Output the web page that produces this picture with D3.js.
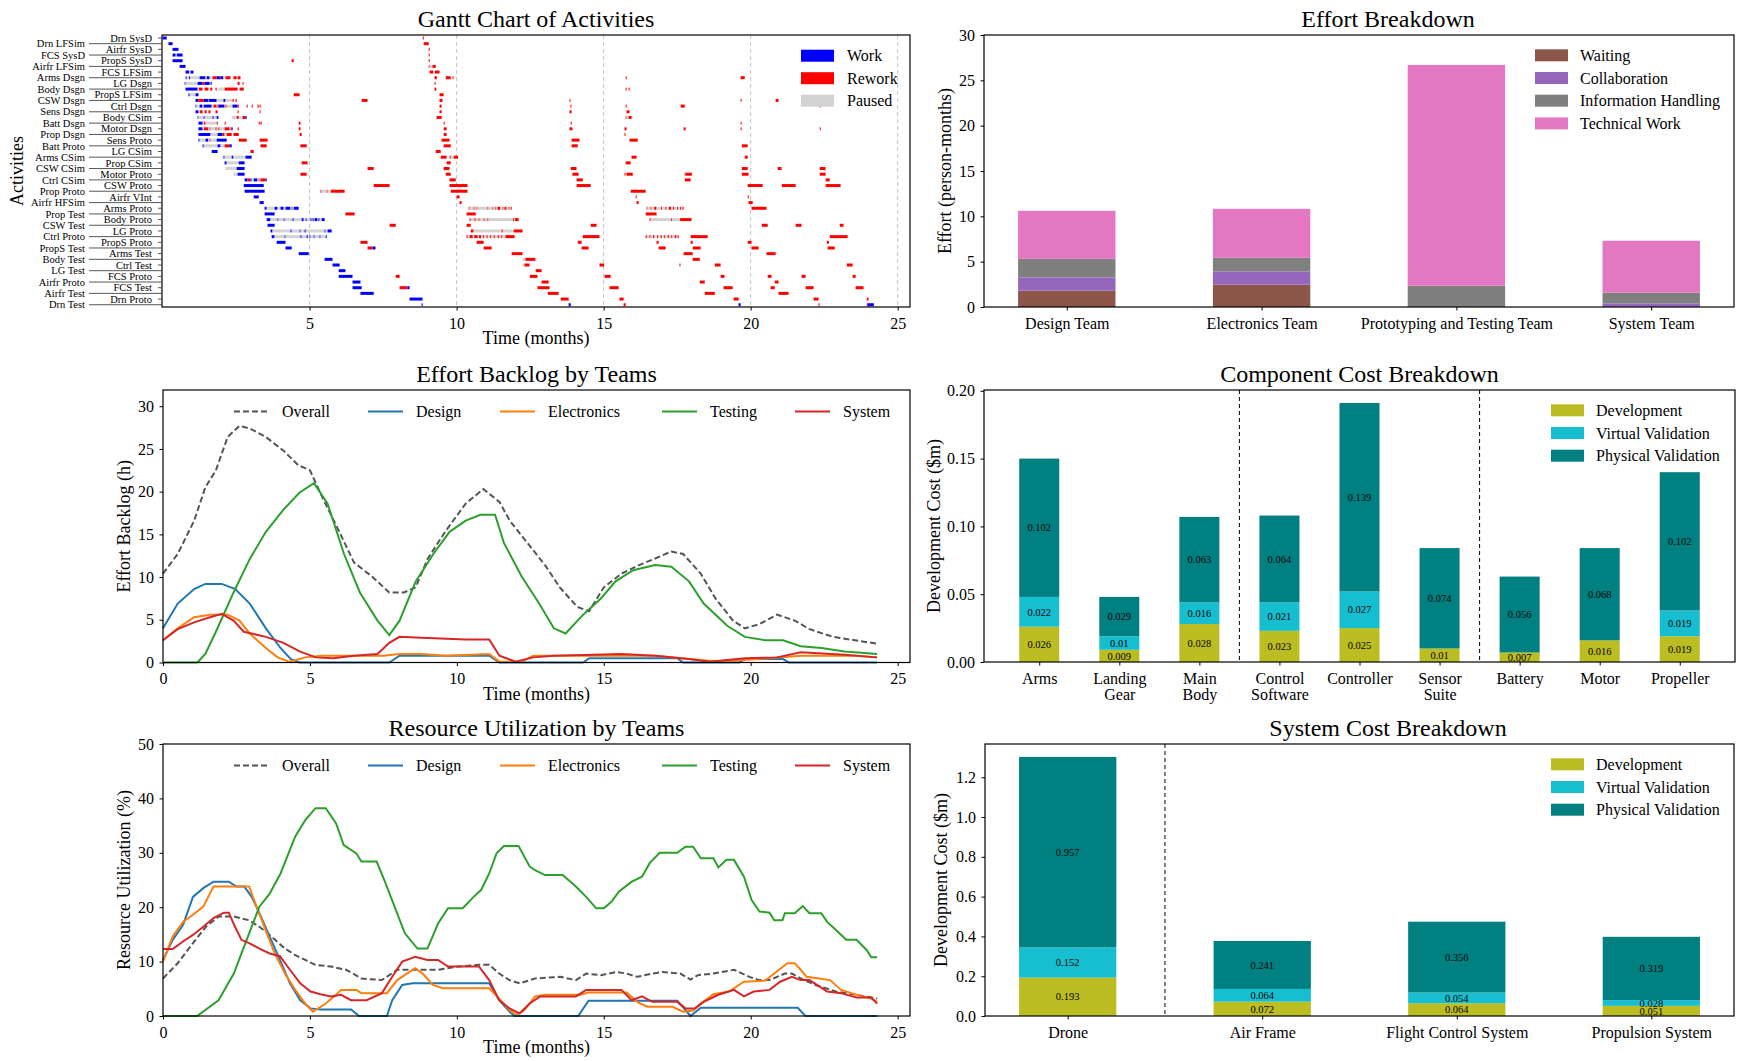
<!DOCTYPE html>
<html>
<head>
<meta charset="utf-8">
<script src="https://cdn.jsdelivr.net/npm/d3@7"></script>
<style>
  body { margin: 0; background: #fff; }
</style>
</head>
<body>
<div id="chart"></div>
<script>
/* * * * * * * * * * * * * *
*         data             *
* * * * * * * * * * * * * */

// gantt: activity names top to bottom, one list of [start, end, kind] per activity
// kind: W = work, R = rework, P = paused
const activities = ["Drn SysD", "Drn LFSim", "Airfr SysD", "FCS SysD", "PropS SysD", "Airfr LFSim", "FCS LFSim",
    "Arms Dsgn", "LG Dsgn", "Body Dsgn", "PropS LFSim", "CSW Dsgn", "Ctrl Dsgn", "Sens Dsgn", "Body CSim",
    "Batt Dsgn", "Motor Dsgn", "Prop Dsgn", "Sens Proto", "Batt Proto", "LG CSim", "Arms CSim", "Prop CSim",
    "CSW CSim", "Motor Proto", "Ctrl CSim", "CSW Proto", "Prop Proto", "Airfr VInt", "Airfr HFSim", "Arms Proto",
    "Prop Test", "Body Proto", "CSW Test", "LG Proto", "Ctrl Proto", "PropS Proto", "PropS Test", "Arms Test",
    "Body Test", "Ctrl Test", "LG Test", "FCS Proto", "Airfr Proto", "FCS Test", "Airfr Test", "Drn Proto", "Drn Test"];

const ganttBars = [
    [[0, 0.14, "W"], [8.85, 8.88, "R"]],
    [[0.2, 0.34, "W"], [8.88, 9.05, "R"]],
    [[0.34, 0.54, "W"], [9.05, 9.07, "R"]],
    [[0.34, 0.44, "W"], [0.48, 0.68, "W"], [9.05, 9.07, "R"]],
    [[0.34, 0.68, "W"], [4.39, 4.46, "R"], [9.05, 9.07, "R"]],
    [[0.58, 0.78, "W"], [9.05, 9.08, "R"], [9.08, 9.18, "P"], [9.18, 9.29, "R"]],
    [[0.78, 0.9, "W"], [0.9, 0.95, "P"], [0.95, 1.05, "W"], [9.08, 9.2, "R"], [9.2, 9.26, "P"], [9.26, 9.42, "R"]],
    [[0.78, 0.82, "W"], [0.82, 0.9, "P"], [0.9, 0.93, "W"], [0.93, 1.26, "P"], [1.26, 1.46, "W"], [1.46, 1.5, "P"],
        [1.5, 1.6, "W"], [1.6, 1.7, "P"], [1.7, 1.84, "R"], [1.84, 1.95, "W"], [1.95, 1.98, "R"], [1.98, 2.07, "W"],
        [2.07, 2.14, "P"], [2.14, 2.31, "R"], [2.41, 2.52, "R"], [2.55, 2.65, "R"], [9.25, 9.33, "R"],
        [9.63, 9.8, "R"], [9.86, 9.89, "R"], [15.75, 15.78, "R"], [19.66, 19.8, "R"]],
    [[0.75, 0.78, "W"], [0.78, 1.19, "P"], [1.19, 1.36, "W"], [1.36, 1.43, "R"], [1.43, 1.6, "W"], [1.63, 1.67, "W"],
        [2.55, 2.62, "R"], [2.72, 2.74, "R"], [9.25, 9.27, "R"]],
    [[0.78, 1.19, "W"], [1.23, 1.36, "R"], [1.43, 1.56, "R"], [1.62, 1.69, "R"], [1.8, 1.84, "R"], [1.9, 2.11, "P"],
        [2.11, 2.55, "R"], [2.62, 2.76, "R"], [9.25, 9.31, "R"], [15.75, 15.77, "R"], [15.85, 15.87, "R"]],
    [[0.88, 0.92, "W"], [0.92, 1.12, "P"], [1.12, 1.22, "W"], [4.46, 4.66, "R"], [9.42, 9.56, "R"]],
    [[1.12, 1.22, "W"], [1.22, 1.4, "R"], [1.4, 1.56, "W"], [1.58, 1.84, "W"], [1.84, 2.07, "P"], [2.07, 2.14, "W"],
        [2.14, 2.38, "P"], [2.38, 2.42, "R"], [2.48, 2.52, "R"], [6.77, 6.97, "R"], [9.42, 9.52, "R"],
        [13.84, 13.86, "R"], [19.66, 19.68, "R"], [20.85, 20.95, "R"]],
    [[1.12, 1.15, "W"], [1.15, 1.26, "P"], [1.26, 1.36, "W"], [1.36, 1.4, "P"], [1.4, 1.67, "W"], [1.67, 1.73, "P"],
        [1.73, 1.84, "R"], [1.84, 1.87, "P"], [1.87, 1.9, "R"], [1.9, 2.11, "W"], [2.11, 2.14, "P"], [2.14, 2.18, "R"],
        [2.18, 2.38, "P"], [2.38, 2.55, "W"], [2.55, 2.59, "R"], [2.86, 2.89, "R"], [3.03, 3.06, "R"],
        [3.23, 3.27, "R"], [3.3, 3.33, "R"], [9.42, 9.49, "R"], [13.87, 13.89, "R"], [15.75, 15.77, "R"],
        [17.62, 17.76, "R"], [22.35, 22.37, "R"]],
    [[1.12, 1.22, "W"], [1.26, 1.36, "R"], [1.43, 1.5, "R"], [1.56, 1.63, "R"], [1.8, 1.87, "R"], [2.55, 2.57, "R"],
        [3.3, 3.32, "R"], [9.42, 9.49, "R"], [13.84, 13.91, "R"], [15.78, 15.88, "R"]],
    [[1.19, 1.22, "W"], [1.22, 1.4, "P"], [1.4, 1.43, "W"], [1.43, 1.7, "P"], [1.7, 1.74, "W"], [1.74, 1.84, "P"],
        [1.84, 1.9, "W"], [2.35, 2.52, "P"], [2.52, 2.59, "R"], [2.59, 2.72, "P"], [2.72, 2.82, "R"],
        [2.82, 2.86, "W"], [9.32, 9.49, "R"], [15.75, 15.78, "R"], [15.78, 15.85, "P"], [15.85, 15.95, "R"]],
    [[1.22, 1.36, "W"], [1.4, 1.46, "R"], [1.46, 1.84, "P"], [1.84, 1.87, "R"], [2.11, 2.14, "R"], [3.27, 3.3, "R"],
        [3.33, 3.37, "R"], [4.63, 4.69, "R"], [9.56, 9.58, "R"], [13.88, 13.9, "R"], [19.66, 19.68, "R"]],
    [[1.22, 1.36, "W"], [1.4, 1.56, "R"], [1.56, 1.6, "P"], [1.6, 1.63, "R"], [1.63, 1.8, "P"], [1.8, 1.84, "R"],
        [1.84, 1.9, "P"], [1.9, 1.94, "R"], [1.94, 2.11, "P"], [2.11, 2.28, "R"], [2.28, 2.31, "P"], [2.31, 2.35, "R"],
        [2.35, 2.38, "W"], [2.55, 2.59, "R"], [4.63, 4.69, "R"], [9.56, 9.66, "R"], [13.84, 13.94, "R"],
        [15.71, 15.78, "R"], [17.72, 17.79, "R"], [19.66, 19.68, "R"], [22.35, 22.37, "R"]],
    [[1.22, 1.63, "W"], [1.63, 1.87, "P"], [1.87, 2.04, "W"], [2.04, 2.11, "R"], [2.11, 2.18, "P"], [2.18, 2.35, "R"],
        [2.41, 2.59, "R"], [4.66, 4.73, "R"], [9.56, 9.66, "R"], [15.71, 15.73, "R"]],
    [[1.22, 1.26, "W"], [1.26, 1.46, "P"], [1.46, 1.56, "W"], [1.56, 1.6, "P"], [1.6, 1.63, "R"], [1.63, 1.84, "P"],
        [1.84, 2.18, "W"], [2.59, 2.86, "R"], [3.3, 3.57, "R"], [9.46, 9.49, "P"], [9.49, 9.76, "R"],
        [13.91, 14.18, "R"], [15.88, 16.16, "R"]],
    [[1.36, 1.4, "W"], [1.4, 1.87, "P"], [1.87, 1.97, "W"], [1.97, 2.11, "P"], [2.11, 2.28, "R"], [2.28, 2.35, "W"],
        [3.33, 3.54, "R"], [4.66, 4.69, "P"], [4.69, 4.9, "R"], [9.56, 9.8, "R"], [13.91, 14.12, "R"], [19.7, 19.9, "R"]],
    [[1.67, 1.87, "W"], [2.99, 3.1, "R"], [9.29, 9.46, "R"]],
    [[2.07, 2.11, "W"], [2.11, 2.35, "P"], [2.35, 2.41, "W"], [2.41, 2.82, "P"], [2.82, 3.03, "W"], [9.46, 9.66, "R"],
        [9.76, 9.8, "R"], [9.8, 9.9, "P"], [9.9, 10.05, "R"], [15.95, 16.12, "R"], [19.8, 19.9, "R"]],
    [[2.11, 2.18, "W"], [2.18, 2.59, "P"], [2.59, 2.79, "W"], [4.73, 4.93, "R"], [9.66, 9.8, "R"], [15.75, 15.92, "R"]],
    [[2.14, 2.52, "P"], [2.52, 2.79, "W"], [6.97, 7.18, "R"], [9.56, 9.76, "R"], [13.88, 14.08, "R"], [19.7, 19.9, "R"],
        [20.92, 21.05, "R"], [22.35, 22.55, "R"]],
    [[2.41, 2.55, "P"], [2.55, 2.79, "W"], [4.69, 4.9, "R"], [9.63, 9.8, "R"], [13.94, 14.15, "R"], [15.71, 15.73, "R"],
        [15.78, 15.99, "R"], [17.76, 17.78, "R"], [17.8, 18.0, "R"], [19.7, 19.93, "R"], [22.35, 22.55, "R"]],
    [[2.79, 2.89, "W"], [2.89, 2.99, "R"], [2.99, 3.03, "W"], [3.03, 3.1, "P"], [3.1, 3.23, "W"], [3.23, 3.27, "P"],
        [3.27, 3.3, "R"], [3.3, 3.33, "P"], [3.33, 3.5, "R"], [3.5, 3.54, "W"], [9.76, 9.97, "R"], [14.08, 14.29, "R"],
        [17.76, 17.96, "R"], [22.55, 22.69, "R"]],
    [[2.76, 3.44, "W"], [7.18, 7.72, "R"], [9.76, 10.37, "R"], [14.08, 14.56, "R"], [19.9, 20.41, "R"],
        [21.06, 21.53, "R"], [22.55, 23.06, "R"]],
    [[2.79, 3.47, "W"], [5.37, 5.4, "R"], [5.4, 5.58, "P"], [5.58, 5.61, "R"], [5.61, 5.72, "P"], [5.72, 6.19, "R"],
        [9.8, 10.37, "R"], [15.92, 16.43, "R"]],
    [[3.1, 3.27, "W"], [10.0, 10.1, "R"], [16.09, 16.11, "R"], [19.9, 19.92, "R"]],
    [[3.3, 3.44, "W"], [10.1, 10.17, "R"], [16.12, 16.19, "R"], [19.93, 20.07, "R"]],
    [[3.47, 3.54, "W"], [3.54, 3.81, "P"], [3.81, 3.91, "W"], [3.91, 4.01, "P"], [4.01, 4.12, "W"], [4.12, 4.18, "P"],
        [4.18, 4.35, "W"], [4.35, 4.39, "P"], [4.39, 4.42, "W"], [4.42, 4.46, "P"], [4.46, 4.63, "W"],
        [10.41, 10.44, "R"], [10.44, 10.58, "P"], [10.58, 10.61, "R"], [10.61, 10.68, "P"], [10.68, 10.71, "R"],
        [10.71, 11.05, "P"], [11.05, 11.08, "R"], [11.08, 11.22, "P"], [11.22, 11.25, "R"], [11.25, 11.32, "P"],
        [11.32, 11.35, "R"], [11.35, 11.39, "P"], [11.39, 11.49, "R"], [11.49, 11.56, "P"], [11.56, 11.59, "R"],
        [11.59, 11.63, "P"], [11.63, 11.7, "R"], [11.7, 11.77, "P"], [11.77, 11.8, "R"], [11.8, 11.84, "P"],
        [11.84, 11.87, "R"], [16.46, 16.49, "R"], [16.49, 16.6, "P"], [16.6, 16.63, "R"], [16.63, 16.72, "P"],
        [16.72, 16.8, "R"], [16.8, 16.95, "P"], [16.95, 16.98, "R"], [16.98, 17.1, "P"], [17.1, 17.14, "R"],
        [17.14, 17.22, "P"], [17.22, 17.3, "R"], [17.3, 17.36, "P"], [17.36, 17.4, "R"], [17.4, 17.5, "P"],
        [17.5, 17.54, "R"], [17.54, 17.6, "P"], [17.6, 17.63, "R"], [17.63, 17.68, "P"], [17.68, 17.72, "R"],
        [20.03, 20.54, "R"]],
    [[3.47, 3.81, "W"], [6.22, 6.53, "R"], [10.34, 10.65, "R"], [16.43, 16.8, "R"]],
    [[3.54, 3.67, "W"], [3.67, 3.91, "P"], [3.91, 3.94, "W"], [3.94, 4.12, "P"], [4.12, 4.15, "W"], [4.15, 4.42, "P"],
        [4.42, 4.46, "W"], [4.46, 4.73, "P"], [4.73, 4.8, "W"], [4.8, 4.87, "P"], [4.87, 4.9, "W"], [4.9, 5.03, "P"],
        [5.03, 5.07, "W"], [5.07, 5.1, "P"], [5.1, 5.14, "W"], [5.14, 5.17, "P"], [5.17, 5.27, "W"], [5.27, 5.3, "P"],
        [5.3, 5.34, "W"], [5.34, 5.41, "P"], [5.41, 5.51, "W"], [10.44, 10.48, "R"], [10.48, 10.61, "P"],
        [10.61, 10.65, "R"], [10.65, 10.75, "P"], [10.75, 10.78, "R"], [10.78, 10.92, "P"], [10.92, 10.95, "R"],
        [10.95, 11.05, "P"], [11.05, 11.08, "R"], [11.08, 11.92, "P"], [11.92, 11.95, "R"], [11.95, 11.99, "P"],
        [11.99, 12.11, "R"], [16.56, 16.6, "R"], [16.6, 17.3, "P"], [17.3, 17.33, "R"], [17.33, 17.6, "P"],
        [17.6, 17.99, "R"]],
    [[3.57, 3.81, "W"], [7.72, 7.93, "R"], [10.34, 10.48, "R"], [14.56, 14.76, "R"], [20.38, 20.58, "R"],
        [21.53, 21.73, "R"], [23.03, 23.16, "R"]],
    [[3.67, 3.74, "W"], [3.74, 4.35, "P"], [4.35, 4.39, "W"], [4.39, 4.66, "P"], [4.66, 4.69, "W"], [4.69, 4.83, "P"],
        [4.83, 4.87, "W"], [4.87, 5.51, "P"], [5.51, 5.54, "W"], [5.54, 5.61, "P"], [5.61, 5.75, "W"],
        [10.48, 10.58, "R"], [10.58, 11.53, "P"], [11.53, 11.57, "R"], [11.57, 11.94, "P"], [11.94, 12.24, "R"]],
    [[3.71, 3.81, "W"], [3.81, 4.15, "P"], [4.15, 4.18, "W"], [4.18, 4.69, "P"], [4.69, 4.73, "W"], [4.73, 4.9, "P"],
        [4.9, 4.94, "W"], [4.94, 5.0, "P"], [5.0, 5.03, "W"], [5.03, 5.14, "P"], [5.14, 5.17, "W"], [5.17, 5.34, "P"],
        [5.34, 5.37, "W"], [5.37, 5.55, "P"], [5.55, 5.58, "W"], [10.34, 10.38, "R"], [10.38, 10.44, "P"],
        [10.44, 10.55, "R"], [10.55, 10.6, "P"], [10.6, 10.72, "R"], [10.72, 10.76, "P"], [10.76, 10.84, "R"],
        [10.84, 10.9, "P"], [10.9, 10.94, "R"], [10.94, 11.02, "P"], [11.02, 11.06, "R"], [11.06, 11.14, "P"],
        [11.14, 11.18, "R"], [11.18, 11.26, "P"], [11.26, 11.3, "R"], [11.3, 11.4, "P"], [11.4, 11.44, "R"],
        [11.44, 11.52, "P"], [11.52, 11.56, "R"], [11.56, 11.66, "P"], [11.66, 11.97, "R"], [14.29, 14.86, "R"],
        [16.43, 16.47, "R"], [16.47, 16.56, "P"], [16.56, 16.6, "R"], [16.6, 16.68, "P"], [16.68, 16.72, "R"],
        [16.72, 16.82, "P"], [16.82, 16.86, "R"], [16.86, 16.94, "P"], [16.94, 16.98, "R"], [16.98, 17.06, "P"],
        [17.06, 17.1, "R"], [17.1, 17.18, "P"], [17.18, 17.22, "R"], [17.22, 17.3, "P"], [17.3, 17.34, "R"],
        [17.34, 17.42, "P"], [17.42, 17.48, "R"], [17.48, 17.52, "P"], [17.52, 17.55, "R"], [17.96, 18.54, "R"],
        [22.69, 23.3, "R"]],
    [[3.88, 4.18, "W"], [6.73, 6.97, "R"], [10.68, 10.92, "R"], [14.12, 14.25, "R"], [16.8, 16.87, "R"],
        [17.96, 18.03, "R"], [19.9, 20.03, "R"], [22.59, 22.66, "R"]],
    [[4.18, 4.39, "W"], [6.97, 7.14, "R"], [7.14, 7.24, "W"], [10.92, 11.19, "R"], [14.25, 14.49, "R"],
        [16.87, 17.11, "R"], [18.03, 18.3, "R"], [20.03, 20.27, "R"], [22.62, 22.86, "R"]],
    [[4.63, 4.97, "W"], [11.87, 12.24, "R"], [17.72, 18.03, "R"], [20.54, 20.85, "R"]],
    [[5.51, 5.78, "W"], [12.24, 12.34, "P"], [12.34, 12.68, "R"], [18.03, 18.27, "R"]],
    [[5.78, 6.02, "W"], [12.24, 12.31, "P"], [12.31, 12.48, "R"], [14.86, 15.02, "R"], [17.58, 17.6, "R"],
        [18.78, 18.98, "R"], [23.27, 23.47, "R"]],
    [[5.99, 6.22, "W"], [12.69, 12.89, "R"]],
    [[5.99, 6.46, "W"], [7.93, 8.06, "R"], [12.49, 12.75, "R"], [15.03, 15.24, "R"], [18.98, 19.11, "R"],
        [20.58, 20.71, "R"], [21.73, 21.87, "R"], [23.47, 23.57, "R"]],
    [[6.46, 6.73, "W"], [12.89, 13.13, "R"], [18.27, 18.44, "R"], [20.82, 20.95, "R"]],
    [[6.46, 6.77, "W"], [8.06, 8.33, "R"], [8.33, 8.4, "W"], [12.75, 13.16, "R"], [15.2, 15.51, "R"],
        [19.08, 19.39, "R"], [20.68, 20.82, "R"], [21.87, 22.14, "R"], [23.57, 23.84, "R"]],
    [[6.73, 7.18, "W"], [13.1, 13.47, "R"], [18.44, 18.78, "R"], [20.95, 21.29, "R"]],
    [[8.4, 8.84, "W"], [13.54, 13.81, "R"], [15.54, 15.68, "R"], [19.42, 19.59, "R"], [22.14, 22.31, "R"],
        [23.95, 24.01, "R"]],
    [[8.81, 8.84, "W"], [13.81, 13.88, "W"], [15.68, 15.75, "R"], [19.59, 19.66, "W"], [22.31, 22.33, "R"],
        [23.95, 23.98, "R"], [23.98, 24.19, "W"]]
];

const ganttKinds = ["Work", "Rework", "Paused"];
const monthTicks = [5, 10, 15, 20, 25];

// effort backlog (h) over time, [month, value]
const backlogOverall = [[0, 10.4], [0.5, 12.7], [1.06, 16.6], [1.44, 20.5], [1.8, 22.5], [2.2, 26.4], [2.6, 27.7],
    [2.95, 27.4], [3.5, 26.4], [4.1, 24.8], [4.6, 23.1], [5.0, 22.5], [5.4, 19.5], [6.0, 15.3], [6.5, 11.7],
    [7.1, 10.1], [7.7, 8.2], [8.2, 8.2], [8.6, 8.8], [9.0, 12.1], [9.6, 15.3], [10.3, 18.6], [10.9, 20.3],
    [11.45, 18.8], [11.8, 16.6], [12.4, 14], [13, 11.4], [13.5, 8.8], [14.1, 6.5], [14.5, 6.0], [15.0, 8.8],
    [15.6, 10.4], [16.2, 11.4], [16.7, 12.1], [17.3, 13], [17.7, 12.7], [18.3, 10.4], [18.8, 7.5], [19.4, 4.9],
    [19.8, 4.0], [20.3, 4.5], [20.9, 5.6], [21.5, 4.9], [22.0, 3.9], [22.8, 3.0], [23.55, 2.6], [24.3, 2.2]];
const backlogDesign = [[0, 4.0], [0.5, 6.9], [1.06, 8.6], [1.44, 9.2], [2.0, 9.2], [2.46, 8.6], [2.95, 6.9],
    [3.5, 4.0], [4.0, 1.7], [4.35, 0.4], [4.65, 0], [7.7, 0], [8.05, 0.8], [11.1, 0.8], [11.45, 0], [14.3, 0],
    [14.5, 0.5], [17.5, 0.5], [17.7, 0], [19.6, 0], [19.8, 0.4], [21.1, 0.4], [21.3, 0], [24.3, 0]];
const backlogElectronics = [[0, 2.6], [0.5, 4.0], [1.06, 5.3], [1.6, 5.6], [2.2, 5.6], [2.6, 4.9], [2.95, 3.4],
    [3.5, 1.7], [3.9, 0.6], [4.3, 0.1], [4.85, 0.6], [5.4, 0.8], [7.5, 0.8], [8.05, 1.0], [8.8, 1.0], [9.6, 0.8],
    [11.1, 1.0], [11.45, 0.1], [12.2, 0.1], [12.6, 0.8], [16.75, 0.8], [17.9, 0.4], [19.0, 0.1], [20.2, 0.4],
    [21.7, 0.8], [23.55, 0.8], [24.3, 0.6]];
const backlogTesting = [[0, 0], [1.17, 0], [1.44, 1], [1.8, 3.6], [2.4, 8.2], [2.95, 12.1], [3.5, 15.3], [4.1, 17.9],
    [4.65, 19.9], [5.14, 21.0], [5.6, 18.6], [6.16, 12.7], [6.7, 8.2], [7.3, 4.9], [7.7, 3.2], [8.05, 4.9],
    [8.6, 9.5], [9.2, 12.7], [9.75, 15.3], [10.3, 16.6], [10.8, 17.3], [11.3, 17.3], [11.6, 14], [12.2, 10.1],
    [12.8, 6.9], [13.3, 4.0], [13.7, 3.4], [14.3, 5.6], [14.9, 7.5], [15.4, 9.5], [16.0, 10.8], [16.75, 11.4],
    [17.3, 11.2], [17.9, 9.5], [18.4, 6.9], [19.2, 4.3], [19.8, 3.0], [20.5, 2.6], [21.1, 2.6], [21.7, 1.9],
    [22.4, 1.7], [23.2, 1.3], [24.3, 1.0]];
const backlogSystem = [[0, 2.6], [0.5, 3.9], [1.06, 4.7], [1.6, 5.3], [2.0, 5.7], [2.4, 4.9], [2.75, 3.6],
    [3.5, 3.0], [4.1, 2.3], [4.65, 1.3], [5.2, 0.6], [5.8, 0.5], [6.5, 0.8], [7.3, 1.0], [7.7, 2.3], [8.05, 3.0],
    [8.8, 2.9], [10.3, 2.7], [11.1, 2.7], [11.45, 0.8], [12.0, 0.1], [12.6, 0.6], [13.3, 0.8], [15.6, 1.0],
    [16.75, 0.8], [17.9, 0.4], [18.6, 0.1], [19.8, 0.5], [20.9, 0.6], [21.7, 1.2], [23.2, 0.9], [24.3, 0.6]];

// resource utilization (%) over time, [month, value]
const utilOverall = [[0, 6.9], [0.5, 9.7], [1.02, 13.4], [1.46, 16.4], [1.9, 18.3], [2.41, 18.3], [2.93, 17.6],
    [3.28, 16.4], [3.63, 14.9], [4.15, 12.4], [4.5, 11.2], [4.84, 10.3], [5.19, 9.4], [5.71, 9.1], [6.23, 8.5],
    [6.75, 6.9], [7.45, 6.6], [7.97, 8.5], [8.66, 8.5], [9.36, 8.5], [10.05, 9.1], [10.75, 9.4], [11.1, 9.4],
    [11.44, 7.8], [11.79, 6.6], [12.14, 6.0], [12.66, 6.9], [13.52, 7.2], [14.05, 6.6], [14.4, 7.8], [14.91, 7.5],
    [15.43, 8.1], [15.78, 7.8], [16.13, 7.2], [16.65, 7.8], [17.0, 8.1], [17.6, 7.8], [17.95, 6.7], [18.2, 7.5],
    [18.73, 7.8], [19.43, 8.5], [19.95, 7.2], [20.3, 6.6], [20.64, 6.6], [21.16, 7.8], [21.4, 7.8], [21.7, 6.9],
    [22.2, 5.7], [22.9, 4.5], [23.6, 3.9], [24.3, 3.2]];
const utilDesign = [[0, 10.3], [0.33, 14], [0.68, 16.7], [1.02, 21.9], [1.37, 23.5], [1.72, 24.7], [2.24, 24.7],
    [2.5, 23.8], [2.76, 23.8], [3.02, 21.9], [3.28, 18.9], [3.63, 14.6], [3.98, 10.3], [4.32, 6], [4.67, 2.9],
    [5.02, 1.4], [5.36, 1.2], [6.4, 1.2], [6.67, 0], [7.62, 0], [7.8, 2.9], [8.14, 5.7], [8.49, 6], [11.1, 6],
    [11.44, 2.9], [11.79, 0.8], [11.96, 0], [14.13, 0], [14.48, 2.8], [17.5, 2.8], [17.78, 1.1], [17.95, 0],
    [18.3, 1.5], [21.6, 1.5], [21.86, 0], [24.3, 0]];
const utilElectronics = [[0, 10], [0.33, 14.6], [0.68, 17.3], [1.02, 18.6], [1.37, 20.1], [1.72, 23.8], [2.93, 23.8],
    [3.1, 21.3], [3.45, 16.4], [3.8, 11.5], [4.15, 7.8], [4.5, 4.8], [4.84, 2.3], [5.1, 0.8], [5.28, 1.4],
    [5.54, 2.3], [5.89, 3.9], [6.06, 4.8], [6.58, 4.8], [6.75, 4.2], [7.62, 4.2], [7.97, 6.6], [8.3, 7.8],
    [8.58, 8.8], [8.84, 7.8], [9.18, 5.7], [9.53, 5.1], [11.1, 5.1], [11.44, 3.2], [11.79, 1.1], [12.05, 0.2],
    [12.3, 1.1], [12.66, 3.6], [13.0, 3.9], [14.2, 3.9], [14.48, 4.3], [15.78, 4.3], [16.13, 2.6], [16.48, 1.7],
    [17.34, 1.7], [17.7, 0.8], [18.04, 1.0], [18.3, 2.3], [18.73, 4.0], [19.26, 4.5], [19.77, 6.3], [20.5, 6.5],
    [20.8, 7.8], [21.25, 9.7], [21.5, 9.7], [21.7, 8.5], [21.9, 7.2], [22.7, 6.6], [23.07, 4.8], [23.6, 3.9],
    [24.1, 3.2], [24.3, 2.6]];
const utilTesting = [[0, 0], [1.16, 0], [1.89, 2.9], [2.41, 7.8], [2.93, 15.2], [3.28, 20.1], [3.63, 22.5],
    [4.0, 26.2], [4.5, 33], [4.84, 36], [5.19, 38.2], [5.54, 38.2], [5.89, 35.4], [6.15, 31.4], [6.58, 29.9],
    [6.75, 28.4], [7.27, 28.4], [7.53, 25], [7.88, 20.1], [8.23, 15.2], [8.66, 12.4], [9.0, 12.4], [9.36, 17],
    [9.7, 19.8], [10.2, 19.8], [10.57, 21.9], [10.83, 23.2], [11.1, 26.2], [11.35, 29.9], [11.6, 31.25],
    [12.1, 31.25], [12.48, 27.45], [12.66, 26.8], [13.0, 25.9], [13.6, 25.9], [14.05, 23.8], [14.4, 21.9],
    [14.74, 19.8], [15.0, 19.8], [15.26, 21], [15.52, 22.9], [15.95, 24.7], [16.3, 25.6], [16.56, 28.1],
    [16.9, 30], [17.5, 30], [17.78, 31.1], [18.04, 31.1], [18.3, 29], [18.73, 29], [18.9, 27.3], [19.17, 28.7],
    [19.43, 28.7], [19.77, 25.6], [20.03, 21.3], [20.3, 19.2], [20.64, 19], [20.8, 17.6], [21.08, 17.6],
    [21.16, 18.9], [21.5, 18.9], [21.77, 20.2], [22.0, 18.9], [22.4, 18.9], [22.6, 17.3], [22.9, 15.8],
    [23.25, 14], [23.6, 14], [23.95, 12.1], [24.1, 10.8], [24.3, 10.8]];
const utilSystem = [[0, 12.3], [0.33, 12.3], [0.68, 13.7], [1.02, 14.9], [1.37, 16.4], [1.72, 18], [2.07, 19],
    [2.24, 19], [2.45, 16.4], [2.67, 14], [2.93, 13.4], [3.28, 12.4], [3.63, 11.5], [3.98, 11], [4.32, 8.5],
    [4.67, 6], [5.02, 4.5], [5.36, 4.0], [5.71, 3.6], [6.06, 3.9], [6.4, 2.9], [6.93, 2.9], [7.45, 4.2], [7.8, 7.2],
    [8.14, 10], [8.58, 10.9], [9.0, 10.3], [9.36, 10.3], [9.7, 9.1], [10.75, 9.1], [11.1, 6.6], [11.44, 2.9],
    [11.79, 1.4], [12.14, 0.5], [12.48, 2.3], [12.83, 3.6], [14.05, 3.6], [14.4, 4.8], [15.6, 4.8], [15.95, 2.9],
    [16.3, 3.6], [16.65, 2.6], [17.5, 2.6], [17.78, 1.4], [18.1, 1.4], [18.4, 2.6], [18.9, 3.9], [19.43, 4.8],
    [19.77, 3.6], [20.1, 4.5], [20.64, 4.8], [21.0, 6.3], [21.4, 7.2], [21.7, 6.6], [22.0, 6.6], [22.6, 4.5],
    [23.07, 4.2], [23.6, 3.4], [24.1, 3.4], [24.3, 2.3]];

// effort breakdown (person-months)
const teams = ["Design Team", "Electronics Team", "Prototyping and Testing Team", "System Team"];
const effortWaiting = [1.8, 2.46, 0, 0];
const effortCollaboration = [1.47, 1.47, 0, 0.4];
const effortInfoHandling = [2.05, 1.5, 2.35, 1.18];
const effortTechnical = [5.29, 5.4, 24.35, 5.73];

// component cost breakdown ($m)
const components = ["Arms", "Landing\nGear", "Main\nBody", "Control\nSoftware", "Controller", "Sensor\nSuite",
    "Battery", "Motor", "Propeller"];
const compDevelopment = [0.026, 0.009, 0.028, 0.023, 0.025, 0.01, 0.007, 0.016, 0.019];
const compVirtual = [0.022, 0.01, 0.016, 0.021, 0.027, 0, 0, 0, 0.019];
const compPhysical = [0.102, 0.029, 0.063, 0.064, 0.139, 0.074, 0.056, 0.068, 0.102];
const compDividers = [2.5, 5.5];

// system cost breakdown ($m)
const systems = ["Drone", "Air Frame", "Flight Control System", "Propulsion System"];
const sysDevelopment = [0.193, 0.072, 0.064, 0.051];
const sysVirtual = [0.152, 0.064, 0.054, 0.028];
const sysPhysical = [0.957, 0.241, 0.356, 0.319];
const sysDividers = [0.5];

/* * * * * * * * * * * * * *
*         drawing          *
* * * * * * * * * * * * * */
const FONT = '"Liberation Serif", "Times New Roman", serif';
const TICK = 16, LABEL = 18, TITLE = 24, LEGEND = 16;

const svg = d3.select("#chart").append("svg")
    .attr("width", 1737)
    .attr("height", 1061)
    .style("font-family", FONT);
svg.append("rect").attr("width", 1737).attr("height", 1061).attr("fill", "#fff");

function styleAxis(g) {
    g.attr("font-family", FONT).attr("font-size", TICK);
    g.select(".domain").remove();
    g.selectAll(".tick line").attr("stroke", "#000");
    g.selectAll(".tick text").attr("fill", "#000");
}

function frame(p) {
    svg.append("rect")
        .attr("x", p.left).attr("y", p.top)
        .attr("width", p.right - p.left).attr("height", p.bottom - p.top)
        .attr("fill", "none").attr("stroke", "#000").attr("stroke-width", 1.2);
}

function title(p, text, cx) {
    svg.append("text")
        .attr("x", cx !== undefined ? cx : (p.left + p.right) / 2).attr("y", p.top - 8.5)
        .attr("text-anchor", "middle").attr("font-size", TITLE)
        .text(text);
}

function yLabel(p, x, text) {
    svg.append("text")
        .attr("transform", `translate(${x},${(p.top + p.bottom) / 2}) rotate(-90)`)
        .attr("text-anchor", "middle").attr("font-size", LABEL)
        .text(text);
}

function xLabel(p, text) {
    svg.append("text")
        .attr("x", (p.left + p.right) / 2).attr("y", p.bottom + 37)
        .attr("text-anchor", "middle").attr("font-size", LABEL)
        .text(text);
}

// ---------- gantt ----------
function drawGantt() {
    const p = {left: 162, right: 910, top: 35, bottom: 307};
    const x = d3.scaleLinear().domain([-0.02, 25.42]).range([p.left, p.right]);
    const y = d3.scaleLinear().domain([-0.53, 47.4]).range([p.top, p.bottom]);
    const colors = {W: "#0000ff", R: "#ff0000", P: "#d3d3d3"};

    const g = svg.append("g");
    g.selectAll(".grid").data(monthTicks).enter().append("line")
        .attr("x1", d => x(d)).attr("x2", d => x(d))
        .attr("y1", p.top).attr("y2", p.bottom)
        .attr("stroke", "#c4c4c4").attr("stroke-dasharray", "4,3");

    const segs = [];
    ganttBars.forEach((row, i) => row.forEach(s => segs.push({row: i, s: s[0], e: s[1], k: s[2]})));
    g.selectAll(".seg").data(segs).enter().append("rect")
        .attr("x", d => x(d.s))
        .attr("width", d => Math.max(1, x(d.e) - x(d.s)))
        .attr("y", d => y(d.row) - 1.5)
        .attr("height", 3)
        .attr("fill", d => colors[d.k]);

    frame(p);

    // two-level activity labels
    const lab = svg.append("g").attr("font-size", 10.5);
    activities.forEach((name, i) => {
        const long = i % 2 === 1;
        lab.append("line")
            .attr("x1", long ? 89 : p.left - 4).attr("x2", p.left)
            .attr("y1", y(i)).attr("y2", y(i))
            .attr("stroke", "#444").attr("stroke-width", 0.9);
        lab.append("text")
            .attr("x", long ? 85 : p.left - 10).attr("y", y(i)).attr("dy", "0.35em")
            .attr("text-anchor", "end").text(name);
    });

    const ax = svg.append("g").attr("transform", `translate(0,${p.bottom})`)
        .call(d3.axisBottom(x).tickValues(monthTicks).tickSize(3.5).tickPadding(7));
    styleAxis(ax);

    const kinds = ["W", "R", "P"];
    const leg = svg.append("g").attr("font-size", LEGEND);
    ganttKinds.forEach((name, i) => {
        const cy = p.top + 20.7 + i * 22.5;
        leg.append("rect").attr("x", 801).attr("y", cy - 6).attr("width", 33).attr("height", 12)
            .attr("fill", colors[kinds[i]]);
        leg.append("text").attr("x", 847).attr("y", cy).attr("dy", "0.35em").text(name);
    });

    title(p, "Gantt Chart of Activities");
    xLabel(p, "Time (months)");
    yLabel(p, 22.5, "Activities");
}

// ---------- line panels ----------
const teamColors = {Overall: "#555555", Design: "#1f77b4", Electronics: "#ff7f0e", Testing: "#2ca02c", System: "#d62728"};
const legendX = [234, 368, 500, 662, 795];

function drawLines(p, yMax, yTicks, series, titleText, yText) {
    const x = d3.scaleLinear().domain([0, 25.42]).range([p.left, p.right]);
    const y = d3.scaleLinear().domain([0, yMax]).range([p.bottom, p.top]);
    const line = d3.line().x(d => x(d[0])).y(d => y(d[1]));

    series.forEach(s => {
        svg.append("path")
            .datum(s.values)
            .attr("d", line)
            .attr("fill", "none")
            .attr("stroke", teamColors[s.name])
            .attr("stroke-width", 2)
            .attr("stroke-dasharray", s.name === "Overall" ? "6,3" : null);
    });

    frame(p);

    const ax = svg.append("g").attr("transform", `translate(0,${p.bottom})`)
        .call(d3.axisBottom(x).tickValues([0].concat(monthTicks)).tickSize(3.5).tickPadding(7));
    styleAxis(ax);
    const ay = svg.append("g").attr("transform", `translate(${p.left},0)`)
        .call(d3.axisLeft(y).tickValues(yTicks).tickSize(3.5).tickPadding(5.5));
    styleAxis(ay);

    const leg = svg.append("g").attr("font-size", LEGEND);
    series.forEach((s, i) => {
        const cy = p.top + 21.5;
        leg.append("line")
            .attr("x1", legendX[i]).attr("x2", legendX[i] + 35)
            .attr("y1", cy).attr("y2", cy)
            .attr("stroke", teamColors[s.name]).attr("stroke-width", 2)
            .attr("stroke-dasharray", s.name === "Overall" ? "6,3" : null);
        leg.append("text").attr("x", legendX[i] + 48).attr("y", cy).attr("dy", "0.35em").text(s.name);
    });

    title(p, titleText);
    xLabel(p, "Time (months)");
    yLabel(p, 130, yText);
}

// ---------- stacked bar panels ----------
function drawStack(p, cfg) {
    const n = cfg.cats.length;
    const x = d3.scaleLinear().domain(cfg.xDomain).range([p.left, p.right]);
    const y = d3.scaleLinear().domain([0, cfg.yMax]).range([p.bottom, p.top]);
    const bw = x(0.5) - x(0);

    // stack the layers bottom to top
    const rows = d3.range(n).map(i => {
        const o = {i: i};
        cfg.layers.forEach(l => o[l.name] = l.values[i]);
        return o;
    });
    const stacked = d3.stack().keys(cfg.layers.map(l => l.name))(rows);

    stacked.forEach((layer, li) => {
        const g = svg.append("g").attr("fill", cfg.layers[li].color);
        g.selectAll("rect").data(layer.filter(d => d[1] > d[0])).enter().append("rect")
            .attr("x", d => x(d.data.i) - bw / 2)
            .attr("width", bw)
            .attr("y", d => y(d[1]))
            .attr("height", d => y(d[0]) - y(d[1]));
        if (cfg.labels) {
            svg.append("g").attr("font-size", 10.5).selectAll("text")
                .data(layer.filter(d => d[1] > d[0])).enter().append("text")
                .attr("x", d => x(d.data.i))
                .attr("y", d => y((d[0] + d[1]) / 2))
                .attr("dy", "0.35em")
                .attr("text-anchor", "middle")
                .text(d => String(+(d[1] - d[0]).toFixed(3)));
        }
    });

    (cfg.dividers || []).forEach(v => {
        svg.append("line")
            .attr("x1", x(v)).attr("x2", x(v))
            .attr("y1", p.top).attr("y2", p.bottom)
            .attr("stroke", "#000").attr("stroke-width", 1).attr("stroke-dasharray", "4,3");
    });

    frame(p);

    const ax = svg.append("g").attr("transform", `translate(0,${p.bottom})`)
        .call(d3.axisBottom(x).tickValues(d3.range(n)).tickSize(3.5).tickPadding(7).tickFormat(""));
    styleAxis(ax);
    ax.selectAll(".tick").each(function (d) {
        const t = d3.select(this).append("text")
            .attr("fill", "#000").attr("y", 10.5).attr("text-anchor", "middle");
        cfg.cats[d].split("\n").forEach((part, k) => {
            t.append("tspan").attr("x", 0).attr("dy", k === 0 ? "0.71em" : "1.02em").text(part);
        });
    });

    const ay = svg.append("g").attr("transform", `translate(${p.left},0)`)
        .call(d3.axisLeft(y).tickValues(cfg.yTicks).tickSize(3.5).tickPadding(5.5).tickFormat(cfg.fmt));
    styleAxis(ay);

    const leg = svg.append("g").attr("font-size", LEGEND);
    cfg.layers.forEach((l, i) => {
        const cy = p.top + 20.3 + i * 22.7;
        leg.append("rect").attr("x", cfg.legendX).attr("y", cy - 6).attr("width", 33).attr("height", 12)
            .attr("fill", l.color);
        leg.append("text").attr("x", cfg.legendX + 45).attr("y", cy).attr("dy", "0.35em").text(l.name);
    });

    title(p, cfg.title, cfg.titleX);
    yLabel(p, cfg.yLabelX, cfg.yLabel);
}

drawGantt();

drawLines({left: 163, right: 910, top: 390, bottom: 662.5}, 31.9, [0, 5, 10, 15, 20, 25, 30], [
    {name: "Overall", values: backlogOverall},
    {name: "Design", values: backlogDesign},
    {name: "Electronics", values: backlogElectronics},
    {name: "Testing", values: backlogTesting},
    {name: "System", values: backlogSystem}
], "Effort Backlog by Teams", "Effort Backlog (h)");

drawLines({left: 163, right: 910, top: 744, bottom: 1016}, 50, [0, 10, 20, 30, 40, 50], [
    {name: "Overall", values: utilOverall},
    {name: "Design", values: utilDesign},
    {name: "Electronics", values: utilElectronics},
    {name: "Testing", values: utilTesting},
    {name: "System", values: utilSystem}
], "Resource Utilization by Teams", "Resource Utilization (%)");

const costLayers = (dev, virt, phys) => [
    {name: "Development", values: dev, color: "#bcbd22"},
    {name: "Virtual Validation", values: virt, color: "#17becf"},
    {name: "Physical Validation", values: phys, color: "#008080"}
];

drawStack({left: 984, right: 1734, top: 35, bottom: 307}, {
    cats: teams, xDomain: [-0.425, 3.425], yMax: 30, yTicks: [0, 5, 10, 15, 20, 25, 30], fmt: d3.format("d"),
    layers: [
        {name: "Waiting", values: effortWaiting, color: "#8c564b"},
        {name: "Collaboration", values: effortCollaboration, color: "#9467bd"},
        {name: "Information Handling", values: effortInfoHandling, color: "#7f7f7f"},
        {name: "Technical Work", values: effortTechnical, color: "#e377c2"}
    ],
    labels: false, legendX: 1535, title: "Effort Breakdown", titleX: 1388,
    yLabel: "Effort (person-months)", yLabelX: 951
});

drawStack({left: 984, right: 1735, top: 390, bottom: 662}, {
    cats: components, xDomain: [-0.69, 8.69], yMax: 0.2006, yTicks: [0, 0.05, 0.1, 0.15, 0.2], fmt: d3.format(".2f"),
    layers: costLayers(compDevelopment, compVirtual, compPhysical), dividers: compDividers,
    labels: true, legendX: 1551, title: "Component Cost Breakdown",
    yLabel: "Development Cost ($m)", yLabelX: 940
});

drawStack({left: 985, right: 1734, top: 744, bottom: 1016}, {
    cats: systems, xDomain: [-0.425, 3.425], yMax: 1.367, yTicks: [0, 0.2, 0.4, 0.6, 0.8, 1.0, 1.2], fmt: d3.format(".1f"),
    layers: costLayers(sysDevelopment, sysVirtual, sysPhysical), dividers: sysDividers,
    labels: true, legendX: 1551, title: "System Cost Breakdown", titleX: 1388,
    yLabel: "Development Cost ($m)", yLabelX: 947
});
</script>
</body>
</html>
